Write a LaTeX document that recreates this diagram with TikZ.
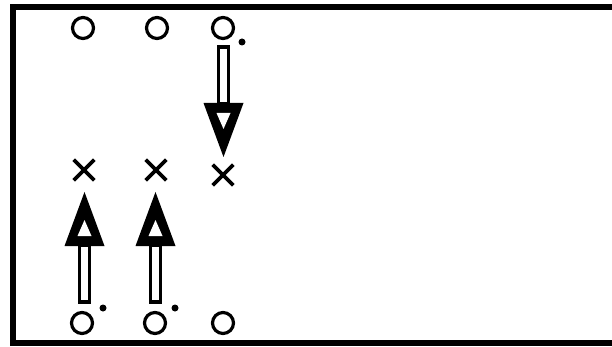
\documentclass[tikz,border=0pt]{standalone}
\usetikzlibrary{shapes.misc}
\begin{document}
\begin{tikzpicture}[x=1pt,y=-1pt,
  ring/.style={circle,draw,line width=3.2pt,minimum size=21pt,inner sep=0pt},
  xmark/.style={cross out,draw,line width=3.6pt,minimum size=17pt,inner sep=0pt},
  spot/.style={circle,fill,minimum size=7pt,inner sep=0pt},
  fatarrow/.pic={
    \draw[line width=3.4pt,fill=white] (-5,0) rectangle (5,57);
    \fill (-20,56) -- (20,56) -- (0,110) -- cycle;
    \fill[white] (-7,66) -- (7,66) -- (0,82) -- cycle;
  }]
\fill[white] (0,0) rectangle (612,347);
\useasboundingbox (0,0) rectangle (612,347);
% frame (top, left, bottom)
\draw[line width=6pt] (612,7) -- (12.5,7) -- (12.5,343) -- (612,343);
% top row
\node[ring] (t1) at (83,28) {};
\node[ring] (t2) at (157,28) {};
\node[ring] (t3) at (223,28) {};
\node[spot] (d1) at (242,42) {};
% crosses
\node[xmark] (x1) at (84,170) {};
\node[xmark] (x2) at (156,170) {};
\node[xmark] (x3) at (223,175) {};
% bottom row
\node[ring] (b1) at (82,323) {};
\node[ring] (b2) at (155,323) {};
\node[ring] (b3) at (223,323) {};
\node[spot] (d2) at (103,308) {};
\node[spot] (d3) at (175,308) {};
% arrows
\coordinate (a1) at (223.5,47);
\coordinate (a2) at (84.5,302);
\coordinate (a3) at (155.5,302);
\pic at (a1) {fatarrow};
\pic[rotate=180] at (a2) {fatarrow};
\pic[rotate=180] at (a3) {fatarrow};
\end{tikzpicture}
\end{document}
